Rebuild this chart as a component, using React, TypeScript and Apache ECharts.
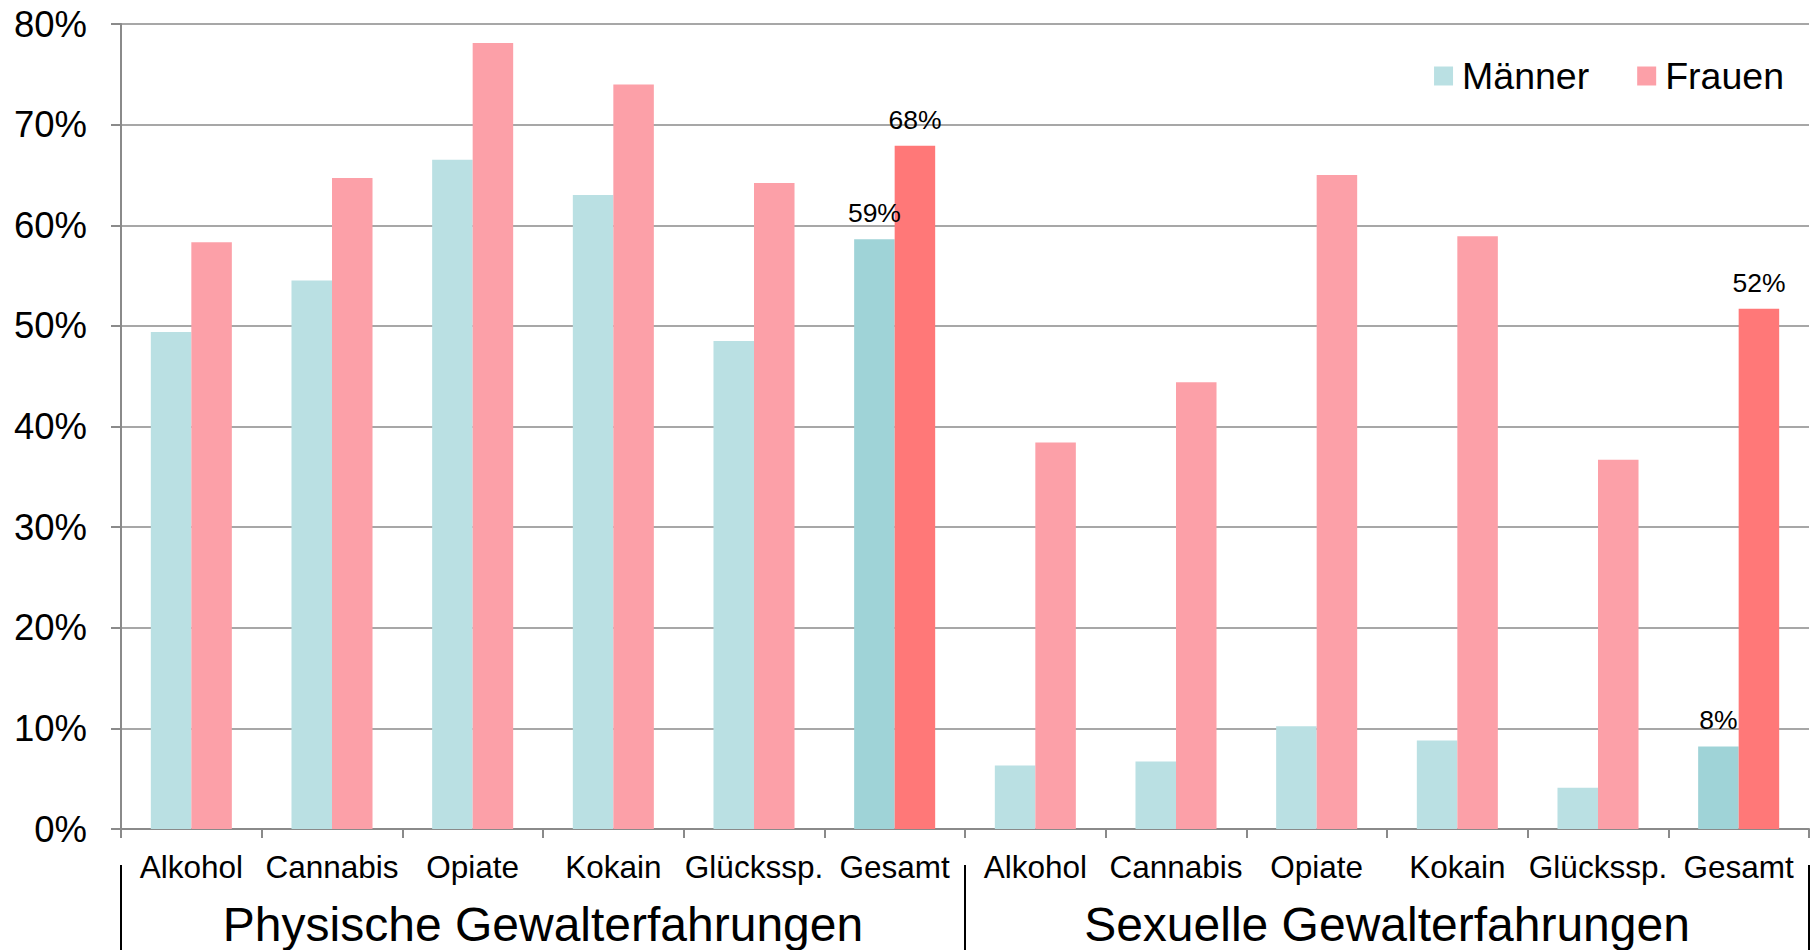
import React, { useEffect, useRef } from "react";
import * as echarts from "echarts";

const categories = ["Alkohol", "Cannabis", "Opiate", "Kokain", "Glückssp.", "Gesamt", "Alkohol", "Cannabis", "Opiate", "Kokain", "Glückssp.", "Gesamt"];
const groups = ["Physische Gewalterfahrungen", "Sexuelle Gewalterfahrungen"];
const maenner = [49.4, 54.5, 66.5, 63.0, 48.5, 58.6, 6.3, 6.7, 10.2, 8.8, 4.1, 8.2];
const frauen = [58.3, 64.7, 78.1, 74.0, 64.2, 67.9, 38.4, 44.4, 65.0, 58.9, 36.7, 51.7];
const totalIdx = [5, 11];
const yTicks = { min: 0, max: 80, interval: 10 };

const FONT = "'Liberation Sans', Arial, sans-serif";
const COL_M = "#BAE0E3";
const COL_M_TOT = "#9FD3D7";
const COL_F = "#FCA0A8";
const COL_F_TOT = "#FF7878";
const GRID_COL = "#8a8a8a";

export default function App() {
  const ref = useRef<HTMLDivElement>(null);
  useEffect(() => {
    const chart = echarts.init(ref.current!, null, { renderer: "svg" });
    const mk = (vals: number[], base: string, tot: string) =>
      vals.map((v, i) => {
        const isTot = totalIdx.includes(i);
        return {
          value: v,
          itemStyle: { color: isTot ? tot : base },
          label: {
            show: isTot,
            position: "top",
            distance: 12.5,
            fontSize: 26.5,
            fontFamily: FONT,
            color: "#000",
            formatter: (p: any) => Math.round(p.value) + "%",
          },
        };
      });
    chart.setOption({
      animation: false,
      textStyle: { fontFamily: FONT },
      legend: {
        right: 27,
        top: 52,
        icon: "rect",
        itemWidth: 19,
        itemHeight: 19,
        itemGap: 48,
        textStyle: { fontSize: 37.5, color: "#000", fontFamily: FONT, padding: [0, 0, 0, 4] },
        data: ["Männer", "Frauen"],
      },
      grid: { left: 121, right: 7, top: 24, bottom: 121, containLabel: false },
      xAxis: [
        {
          type: "category",
          data: categories,
          position: "bottom",
          axisLine: { show: true, lineStyle: { color: GRID_COL, width: 2 } },
          axisTick: { show: true, length: 9, lineStyle: { color: GRID_COL, width: 2 } },
          axisLabel: { fontSize: 31.5, color: "#000", margin: 21.5, interval: 0, fontFamily: FONT },
        },
        {
          type: "category",
          data: groups,
          position: "bottom",
          offset: 36,
          axisLine: { show: false },
          axisTick: { show: true, length: 85, lineStyle: { color: "#000", width: 2 } },
          axisLabel: { fontSize: 48, color: "#000", margin: 35, interval: 0, fontFamily: FONT },
        },
      ],
      yAxis: {
        type: "value",
        min: yTicks.min,
        max: yTicks.max,
        interval: yTicks.interval,
        axisLine: { show: true, lineStyle: { color: GRID_COL, width: 2 } },
        axisTick: { show: true, length: 10, lineStyle: { color: GRID_COL, width: 2 } },
        axisLabel: { fontSize: 36.5, color: "#000", margin: 34, formatter: "{value}%", fontFamily: FONT },
        splitLine: { show: true, lineStyle: { color: GRID_COL, width: 1.5 } },
      },
      series: [
        {
          name: "Männer",
          type: "bar",
          xAxisIndex: 0,
          data: mk(maenner, COL_M, COL_M_TOT),
          itemStyle: { color: COL_M },
          barGap: "0%",
          barCategoryGap: "42.4%",
        },
        {
          name: "Frauen",
          type: "bar",
          xAxisIndex: 0,
          data: mk(frauen, COL_F, COL_F_TOT),
          itemStyle: { color: COL_F },
          barGap: "0%",
          barCategoryGap: "42.4%",
        },
      ],
    });
    return () => chart.dispose();
  }, []);
  return (
    <div
      ref={ref}
      style={{ position: "fixed", left: 0, top: 0, width: 1816, height: 950, background: "#fff" }}
    />
  );
}
